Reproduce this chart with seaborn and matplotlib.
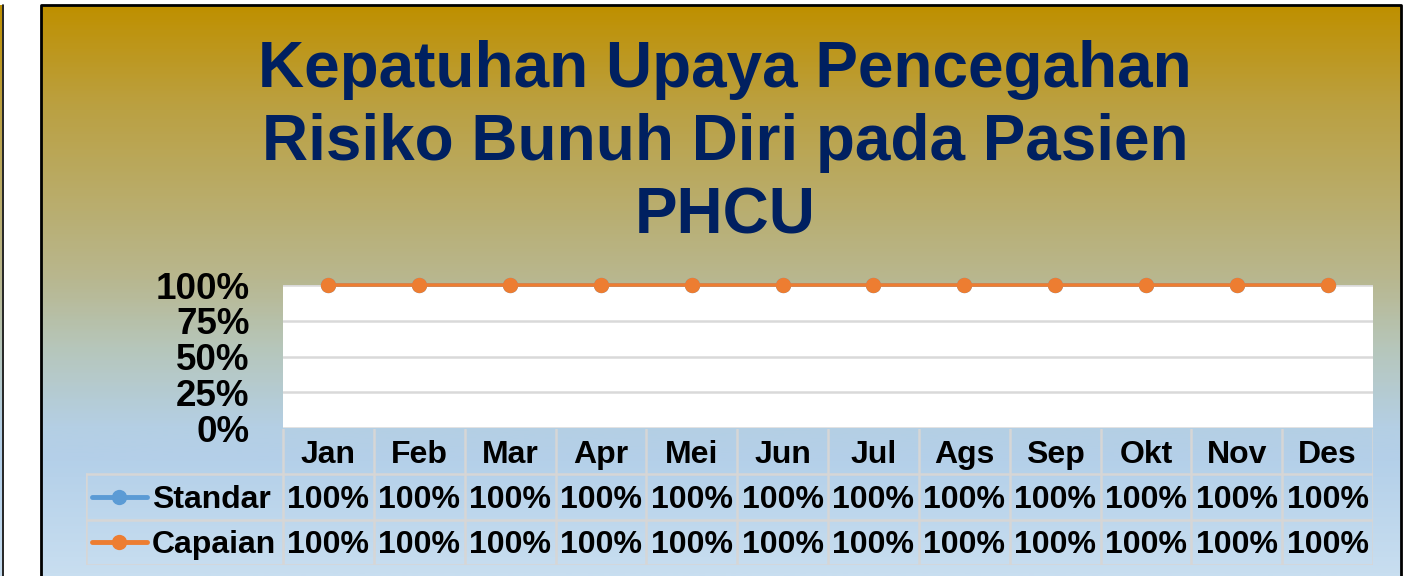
import numpy as np
import pandas as pd
import seaborn as sns
import matplotlib.pyplot as plt
from matplotlib.colors import LinearSegmentedColormap
from matplotlib.lines import Line2D

months = ["Jan", "Feb", "Mar", "Apr", "Mei", "Jun", "Jul", "Ags", "Sep", "Okt", "Nov", "Des"]
standar = [1.0, 1.0, 1.0, 1.0, 1.0, 1.0, 1.0, 1.0, 1.0, 1.0, 1.0, 1.0]
capaian = [1.0, 1.0, 1.0, 1.0, 1.0, 1.0, 1.0, 1.0, 1.0, 1.0, 1.0, 1.0]
series_names = ["Standar", "Capaian"]
series_colors = {"Standar": "#5B9BD5", "Capaian": "#ED7D31"}
title_lines = ["Kepatuhan Upaya Pencegahan", "Risiko Bunuh Diri pada Pasien", "PHCU"]

df = pd.concat([
    pd.DataFrame({"Bulan": months, "Nilai": standar, "Seri": "Standar"}),
    pd.DataFrame({"Bulan": months, "Nilai": capaian, "Seri": "Capaian"}),
])

sns.set_style("white")
plt.rcParams["font.family"] = ["Liberation Sans", "DejaVu Sans"]
plt.rcParams["text.color"] = "black"
plt.rcParams["ytick.color"] = "black"
plt.rcParams["ytick.labelcolor"] = "black"

W, H = 1421, 576
fig = plt.figure(figsize=(W / 100, H / 100), dpi=100)

# background frame with gradient (pixel coordinates)
bg = fig.add_axes([0, 0, 1, 1])
bg.set_xlim(0, W)
bg.set_ylim(H, 0)
bg.axis("off")
grad = LinearSegmentedColormap.from_list("bg", [
    (0.0, "#BF9000"), (0.17, "#BBA040"), (0.36, "#B9AE70"), (0.48, "#B8B78F"),
    (0.6, "#B6C6BA"), (0.74, "#B4CFE4"), (0.8, "#B4D0E9"), (1.0, "#C8DEF0"),
])
bg.imshow(np.linspace(0, 1, 300).reshape(-1, 1), cmap=grad, aspect="auto",
          extent=[41, 1401, 576, 5], zorder=0)
bg.plot([41, 41, 1401, 1401], [580, 5, 5, 580], color="black", lw=2, zorder=1)
bg.imshow(np.linspace(0, 1, 300).reshape(-1, 1), cmap=grad, aspect="auto",
          extent=[0, 2, 576, 5], zorder=0)
bg.plot([2.5, 2.5], [5, 580], color="black", lw=1.2, zorder=1)

# title
for i, line in enumerate(title_lines):
    fig.text(725 / W, 1 - (87 + 73 * i) / H, line, ha="center", va="baseline",
             fontsize=46, fontweight="bold", color="#002060")

# plot area
x0, x1, ytop, ybot = 283, 1373, 285, 428
ax = fig.add_axes([x0 / W, 1 - ybot / H, (x1 - x0) / W, (ybot - ytop) / H])
ax.set_facecolor("white")
sns.lineplot(data=df, x="Bulan", y="Nilai", hue="Seri", hue_order=series_names,
             palette=series_colors, marker="o", markersize=11, markeredgewidth=0,
             linewidth=2.6, sort=False, legend=False, ax=ax, clip_on=False, zorder=5)
ax.set_xlim(-0.5, len(months) - 0.5)
ax.set_ylim(0, 1)
ax.set_yticks([0, 0.25, 0.5, 0.75, 1.0])
ax.set_yticklabels(["0%", "25%", "50%", "75%", "100%"], fontsize=26.5,
                   fontweight="bold", color="black")
ax.tick_params(axis="y", length=0, pad=24)
ax.set_xticks([])
ax.set_xlabel("")
ax.set_ylabel("")
ax.grid(axis="y", color="#D9D9D9", lw=1.8)
ax.set_axisbelow(True)
for s in ax.spines.values():
    s.set_visible(False)

# data table below the plot, columns aligned with the categories
tx0, tytop, tybot = 86, 429, 565
colw = (x1 - x0) / len(months)
left = -0.5 - (x0 - tx0) / colw
tax = fig.add_axes([tx0 / W, 1 - tybot / H, (x1 - tx0) / W, (tybot - tytop) / H])
tax.set_xlim(left, len(months) - 0.5)
tax.set_ylim(3, 0)
tax.axis("off")
gc = "#D6D6D6"
for k in range(len(months) + 1):
    tax.plot([k - 0.5, k - 0.5], [0, 3], color=gc, lw=1.8)
tax.plot([left, left], [1, 3], color=gc, lw=1.8)
for r in (1, 2, 3):
    tax.plot([left, len(months) - 0.5], [r, r], color=gc, lw=1.8)
for j, m in enumerate(months):
    tax.text(j, 0.58, m, ha="center", va="center", fontsize=23, fontweight="bold",
             color="black")
for r, (name, vals) in enumerate(zip(series_names, [standar, capaian]), start=1):
    for j, v in enumerate(vals):
        tax.text(j, r + 0.56, f"{v:.0%}", ha="center", va="center", fontsize=23,
                 fontweight="bold", color="black")
    lx = left + np.array([6, 61]) / colw
    tax.add_line(Line2D(lx, [r + 0.5, r + 0.5], color=series_colors[name], lw=3.5))
    tax.plot([lx.mean()], [r + 0.5], marker="o", markersize=11, markeredgewidth=0,
             color=series_colors[name])
    tax.text(left + 66 / colw, r + 0.56, name, ha="left", va="center", fontsize=23,
             fontweight="bold", color="black")

fig.savefig("out.png", dpi=100)
